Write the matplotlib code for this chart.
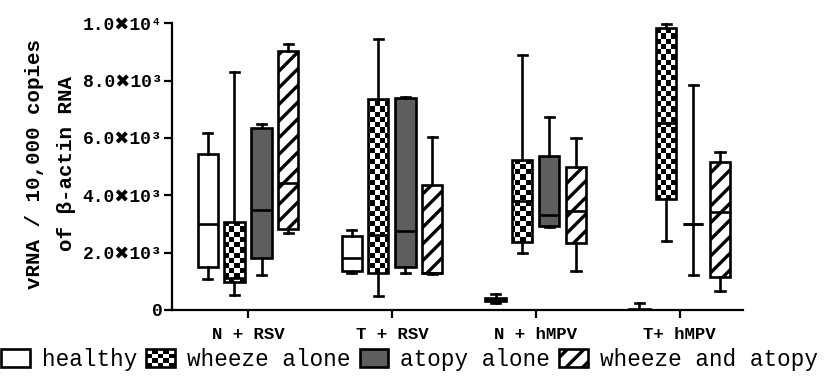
import numpy as np
import matplotlib
matplotlib.use("Agg")
import matplotlib.pyplot as plt
from matplotlib.patches import Rectangle
from matplotlib.legend_handler import HandlerBase

# ---------------- data ----------------
groups = ["N + RSV", "T + RSV", "N + hMPV", "T+ hMPV"]
categories = ["healthy", "wheeze alone", "atopy alone", "wheeze and atopy"]

healthy_whislo = [1080, 1280, 240, 0]
healthy_q1 = [1490, 1370, 330, 0]
healthy_med = [3000, 1820, 380, 0]
healthy_q3 = [5430, 2580, 430, 30]
healthy_whishi = [6160, 2790, 560, 230]

wheeze_whislo = [520, 490, 1980, 2420]
wheeze_q1 = [970, 1300, 2380, 3870]
wheeze_med = [1120, 2620, 3800, 6530]
wheeze_q3 = [3060, 7350, 5230, 9830]
wheeze_whishi = [8290, 9440, 8890, 9980]

atopy_whislo = [1220, 1280, 2900, 1220]
atopy_q1 = [1820, 1490, 2930, 3000]
atopy_med = [3490, 2770, 3310, 3000]
atopy_q3 = [6360, 7380, 5380, 3000]
atopy_whishi = [6490, 7420, 6720, 7850]

both_whislo = [2680, 1260, 1360, 660]
both_q1 = [2840, 1300, 2330, 1160]
both_med = [4420, 1300, 3460, 3430]
both_q3 = [9040, 4360, 4980, 5150]
both_whishi = [9280, 6020, 6010, 5520]

ytick_values = [0, 2000, 4000, 6000, 8000, 10000]
ytick_labels = ["0", "2.0\u271610\u00b3", "4.0\u271610\u00b3", "6.0\u271610\u00b3",
                "8.0\u271610\u00b3", "1.0\u271610\u2074"]

series = [
    (healthy_whislo, healthy_q1, healthy_med, healthy_q3, healthy_whishi),
    (wheeze_whislo, wheeze_q1, wheeze_med, wheeze_q3, wheeze_whishi),
    (atopy_whislo, atopy_q1, atopy_med, atopy_q3, atopy_whishi),
    (both_whislo, both_q1, both_med, both_q3, both_whishi),
]

# ---------------- style ----------------
MONO = ["Liberation Mono", "DejaVu Sans"]
plt.rcParams["hatch.linewidth"] = 2.4
LW = 1.9
GRAY = "#5e5e5e"
offsets = [-0.28, -0.094, 0.094, 0.28]
box_w = 0.14

fig = plt.figure(figsize=(8.4, 3.78), dpi=100)
ax = fig.add_axes([0.2048, 0.1799, 0.6798, 0.7584])

centers = np.arange(len(groups))
box_patches = {}
for k, (lo, q1, med, q3, hi) in enumerate(series):
    stats = []
    for g in range(len(groups)):
        stats.append(dict(whislo=lo[g], q1=q1[g], med=med[g], q3=q3[g], whishi=hi[g], fliers=[]))
    if k == 0:
        fc, hatch = "white", None
    elif k == 1:
        fc, hatch = "none", None
    elif k == 2:
        fc, hatch = GRAY, None
    else:
        fc, hatch = "white", "//"
    res = ax.bxp(stats, positions=centers + offsets[k], widths=box_w,
                 capwidths=0.065, patch_artist=True, showfliers=False,
                 manage_ticks=False,
                 boxprops=dict(facecolor=fc, edgecolor="black", linewidth=LW, hatch=hatch),
                 medianprops=dict(color="black", linewidth=LW),
                 whiskerprops=dict(color="black", linewidth=LW),
                 capprops=dict(color="black", linewidth=LW))
    for b in res["boxes"]:
        b.set_zorder(3)
    for key in ("medians", "whiskers", "caps"):
        for l in res[key]:
            l.set_zorder(4)
    box_patches[k] = res["boxes"]

# checkerboard texture for "wheeze alone"
ax_w_px = 0.6798 * 840
ax_h_px = 0.7584 * 378
cell = 5.2
nx = int(round(ax_w_px / cell))
ny = int(round(ax_h_px / cell))
checker = (np.add.outer(np.arange(ny), np.arange(nx)) % 2).astype(float)
for b in box_patches[1]:
    im = ax.imshow(checker, cmap="gray", vmin=0, vmax=1, interpolation="nearest",
                   extent=[0, 1, 0, 1], transform=ax.transAxes, aspect="auto", zorder=2)
    im.set_clip_path(b)

ax.set_xlim(-0.528, 3.44)
ax.set_ylim(0, 10000)
ax.set_autoscale_on(False)

for s in ("top", "right"):
    ax.spines[s].set_visible(False)
for s in ("left", "bottom"):
    ax.spines[s].set_linewidth(1.6)

ax.set_yticks(ytick_values)
ax.set_yticklabels(ytick_labels, family=MONO, fontweight="bold", fontsize=13)
ax.set_xticks(centers)
ax.set_xticklabels(groups, family=MONO, fontweight="bold", fontsize=12.5)
ax.tick_params(axis="both", length=6, width=1.6, direction="out")
ax.tick_params(axis="y", pad=1)
ax.tick_params(axis="x", pad=6)

ax.set_ylabel("vRNA / 10,000 copies\nof \u03b2-actin RNA", family=MONO,
              fontweight="bold", fontsize=15, linespacing=1.85)
ax.yaxis.set_label_coords(-0.168, 0.51)


class CheckerHandler(HandlerBase):
    def create_artists(self, legend, orig_handle, xdescent, ydescent, width, height, fontsize, trans):
        x0, y0 = -xdescent, -ydescent
        arts = [Rectangle((x0, y0), width, height, facecolor="white", edgecolor="none", transform=trans)]
        nxc, nyc = 5, 4
        cw, ch = width / nxc, height / nyc
        for i in range(nxc):
            for j in range(nyc):
                if (i + j) % 2 == 0:
                    arts.append(Rectangle((x0 + i * cw, y0 + j * ch), cw, ch,
                                          facecolor="black", edgecolor="none", transform=trans))
        arts.append(Rectangle((x0, y0), width, height, fill=False, edgecolor="black",
                              linewidth=LW, transform=trans))
        return arts


h_healthy = Rectangle((0, 0), 1, 1, facecolor="white", edgecolor="black", linewidth=LW)
h_wheeze = Rectangle((0, 0), 1, 1, facecolor="white", edgecolor="black", linewidth=LW)
h_atopy = Rectangle((0, 0), 1, 1, facecolor=GRAY, edgecolor="black", linewidth=LW)
h_both = Rectangle((0, 0), 1, 1, facecolor="white", edgecolor="black", linewidth=LW, hatch="//")

fig.legend([h_healthy, h_wheeze, h_atopy, h_both], categories,
           handler_map={h_wheeze: CheckerHandler()},
           loc="lower left", bbox_to_anchor=(-0.012, -0.012), ncol=4, frameon=False,
           prop=dict(family=MONO, size=16.3), handlelength=1.25, handleheight=0.85,
           handletextpad=0.55, columnspacing=0.4, borderaxespad=0.2, borderpad=0.3)

fig.savefig("out.png", dpi=100)
